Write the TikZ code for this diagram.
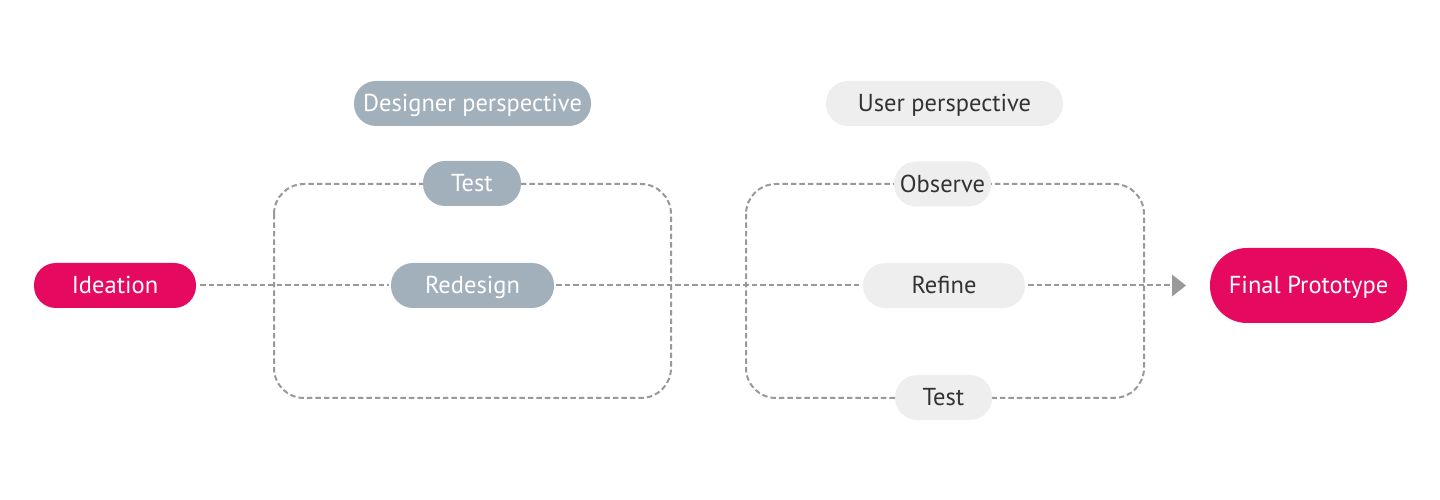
\documentclass[tikz,border=0pt]{standalone}
\usepackage{fontspec}
\setmainfont{PT Sans}
\usetikzlibrary{arrows.meta}
\definecolor{mag}{HTML}{E5095F}
\definecolor{slate}{HTML}{A2B0BC}
\definecolor{lightg}{HTML}{EEEEEE}
\definecolor{txtd}{HTML}{333333}
\definecolor{linegray}{HTML}{999999}
\tikzset{
  pill/.style={rounded corners=22pt, minimum height=45pt, inner sep=0pt, text height=17pt, text depth=0pt, font=\fontsize{24.5}{27}\selectfont},
  magpill/.style={pill, fill=mag, text=white},
  slatepill/.style={pill, fill=slate, text=white},
  lightpill/.style={pill, fill=lightg, text=txtd},
  dline/.style={draw=linegray, line width=2pt, dash pattern=on 5.5pt off 3pt},
  frame/.style={dline, rounded corners=30pt}
}
\begin{document}
\begin{tikzpicture}[x=1pt,y=1pt]
\useasboundingbox (0,0) rectangle (1440,500);
% frames
\draw[frame] (274,316) rectangle (671,102);
\draw[frame] (746,316) rectangle (1144,102);
% nodes
\node[magpill, minimum width=162pt] (idea) at (115,214.5) {Ideation};
\node[slatepill, minimum width=237pt] (dp) at (472.5,396.5) {Designer perspective};
\node[slatepill, minimum width=98pt] (test1) at (472,316.5) {Test};
\node[slatepill, minimum width=163pt] (redesign) at (472.5,214.5) {Redesign};
\node[lightpill, minimum width=237pt] (up) at (944.5,396.5) {User perspective};
\node[lightpill, minimum width=97pt] (observe) at (942.5,316) {Observe};
\node[lightpill, minimum width=162pt] (refine) at (944,214.5) {Refine};
\node[lightpill, minimum width=97pt] (test2) at (943.5,102.5) {Test};
\node[magpill, rounded corners=37pt, minimum width=197pt, minimum height=75pt] (final) at (1308.5,214.5) {Final Prototype};
\coordinate (tip) at (1186,214.5);
% connectors
\draw[dline] ([xshift=4pt]idea.east) -- ([xshift=-2pt]redesign.west);
\draw[dline] ([xshift=2pt]redesign.east) -- ([xshift=-2pt]refine.west);
\draw[dline] ([xshift=3pt]refine.east) -- ([xshift=-14pt]tip);
\fill[linegray] (tip) -- ++(-14,11) -- ++(0,-22) -- cycle;
\end{tikzpicture}
\end{document}
